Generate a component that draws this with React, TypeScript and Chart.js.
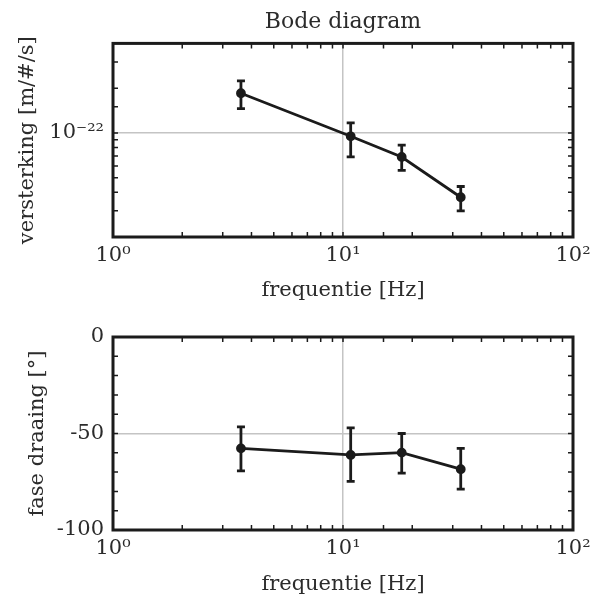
import React, { useEffect, useRef } from 'react';
import { Chart, registerables } from 'chart.js';

Chart.register(...registerables);

// ---- data ----
const frequencies = [3.6, 10.8, 18.0, 32.5];
const gain = [1.85e-22, 9.5e-23, 6.9e-23, 3.7e-23];
const gainLow = [1.46e-22, 6.9e-23, 5.6e-23, 3.0e-23];
const gainHigh = [2.24e-22, 1.17e-22, 8.3e-23, 4.37e-23];
const phase = [-57.7, -61.1, -59.9, -68.5];
const phaseLow = [-69.4, -74.8, -70.5, -78.8];
const phaseHigh = [-46.6, -47.1, -50.0, -57.7];

const freqTickValues = [1, 10, 100];
const freqTickLabels = ['10⁰', '10¹', '10²'];
const gainTickValues = [1e-22];
const gainTickLabels = ['10⁻²²'];
const phaseTickValues = [-100, -50, 0];
const phaseTickLabels = ['-100', '-50', '0'];

const FONT = "'DejaVu Serif', serif";
const TEXT = '#2b2b2b';
const INK = '#1b1b1b';
const GRID = '#c4c4c4';

const near = (a: number, b: number) =>
  b === 0 ? Math.abs(a) < 1e-9 : Math.abs(a - b) <= Math.abs(b) * 1e-6;

const labelFor = (values: number[], labels: string[]) => (v: number) => {
  const i = values.findIndex((t) => near(Number(v), t));
  return i >= 0 ? labels[i] : '';
};

const gridFor = (values: number[]) => (c: any) =>
  c.tick && values.some((t) => near(c.tick.value, t)) ? GRID : 'transparent';

function makeDecor(lo: number[], hi: number[]) {
  return {
    id: 'decor',
    afterDatasetsDraw(chart: any) {
      const { ctx, chartArea: a, scales } = chart;
      const xs = scales.x;
      const ys = scales.y;
      ctx.save();
      ctx.strokeStyle = INK;
      // error bars
      ctx.lineWidth = 2.8;
      frequencies.forEach((f, i) => {
        const px = xs.getPixelForValue(f);
        const pl = ys.getPixelForValue(lo[i]);
        const ph = ys.getPixelForValue(hi[i]);
        ctx.beginPath();
        ctx.moveTo(px, pl);
        ctx.lineTo(px, ph);
        ctx.moveTo(px - 4, pl);
        ctx.lineTo(px + 4, pl);
        ctx.moveTo(px - 4, ph);
        ctx.lineTo(px + 4, ph);
        ctx.stroke();
      });
      // inner ticks on all four sides
      ctx.lineWidth = 1.5;
      const L = 5;
      xs.ticks.forEach((t: any) => {
        const p = xs.getPixelForValue(t.value);
        if (p < a.left + 2 || p > a.right - 2) return;
        ctx.beginPath();
        ctx.moveTo(p, a.bottom);
        ctx.lineTo(p, a.bottom - L);
        ctx.moveTo(p, a.top);
        ctx.lineTo(p, a.top + L);
        ctx.stroke();
      });
      ys.ticks.forEach((t: any) => {
        const p = ys.getPixelForValue(t.value);
        if (p < a.top + 2 || p > a.bottom - 2) return;
        ctx.beginPath();
        ctx.moveTo(a.left, p);
        ctx.lineTo(a.left + L, p);
        ctx.moveTo(a.right, p);
        ctx.lineTo(a.right - L, p);
        ctx.stroke();
      });
      // frame
      ctx.lineWidth = 3;
      ctx.strokeRect(a.left, a.top, a.right - a.left, a.bottom - a.top);
      ctx.restore();
    },
  };
}

function buildConfig(p: any) {
  return {
    type: 'line',
    data: {
      datasets: [
        {
          data: frequencies.map((f, i) => ({ x: f, y: p.values[i] })),
          borderColor: INK,
          backgroundColor: INK,
          borderWidth: 2.8,
          pointRadius: 3.5,
          pointBackgroundColor: INK,
          pointBorderColor: INK,
          tension: 0,
          fill: false,
        },
      ],
    },
    plugins: [makeDecor(p.lo, p.hi)],
    options: {
      responsive: false,
      animation: false,
      layout: { padding: p.padding },
      plugins: {
        legend: { display: false },
        tooltip: { enabled: false },
        title: p.title
          ? {
              display: true,
              text: p.title,
              fullSize: false,
              color: TEXT,
              font: { family: FONT, size: 22, weight: 'normal' },
              padding: { top: 9, bottom: 8 },
            }
          : { display: false },
      },
      scales: {
        x: {
          type: 'logarithmic',
          position: 'bottom',
          min: 1,
          max: 100,
          afterFit: (s: any) => {
            s.height = p.xHeight;
          },
          border: { display: false },
          grid: { drawTicks: false, color: gridFor(freqTickValues), lineWidth: 1.5 },
          ticks: {
            autoSkip: false,
            maxRotation: 0,
            padding: 6,
            color: TEXT,
            font: { family: FONT, size: 21 },
            callback: labelFor(freqTickValues, freqTickLabels),
          },
          title: {
            display: true,
            text: 'frequentie [Hz]',
            color: TEXT,
            font: { family: FONT, size: 21 },
            padding: { top: 0, bottom: 1 },
          },
        },
        y: {
          type: p.yType,
          position: 'left',
          min: p.yMin,
          max: p.yMax,
          afterFit: (s: any) => {
            s.width = 113;
          },
          border: { display: false },
          grid: { drawTicks: false, color: gridFor(p.gridValues), lineWidth: 1.5 },
          ticks: {
            autoSkip: false,
            padding: 9,
            color: TEXT,
            font: { family: FONT, size: 21 },
            stepSize: p.stepSize,
            callback: labelFor(p.tickValues, p.tickLabels),
          },
          title: {
            display: true,
            text: p.yTitle,
            color: TEXT,
            font: { family: FONT, size: 21 },
            padding: { top: p.yTitlePad, bottom: 0 },
          },
        },
      },
    },
  };
}

export default function App() {
  const topRef = useRef<HTMLCanvasElement>(null);
  const botRef = useRef<HTMLCanvasElement>(null);

  useEffect(() => {
    const top = new Chart(
      topRef.current as HTMLCanvasElement,
      buildConfig({
        values: gain,
        lo: gainLow,
        hi: gainHigh,
        yType: 'logarithmic',
        yMin: 2e-23,
        yMax: 4e-22,
        tickValues: gainTickValues,
        tickLabels: gainTickLabels,
        gridValues: gainTickValues,
        yTitle: 'versterking [m/#/s]',
        yTitlePad: 15,
        title: 'Bode diagram',
        padding: { left: 0, right: 27, top: 0, bottom: 16 },
        xHeight: 67,
      }) as any
    );
    const bot = new Chart(
      botRef.current as HTMLCanvasElement,
      buildConfig({
        values: phase,
        lo: phaseLow,
        hi: phaseHigh,
        yType: 'linear',
        yMin: -100,
        yMax: 0,
        stepSize: 10,
        tickValues: phaseTickValues,
        tickLabels: phaseTickLabels,
        gridValues: [-50],
        yTitle: 'fase draaing [°]',
        yTitlePad: 25,
        title: null,
        padding: { left: 0, right: 27, top: 37, bottom: 1 },
        xHeight: 68,
      }) as any
    );
    return () => {
      top.destroy();
      bot.destroy();
    };
  }, []);

  return (
    <div style={{ position: 'absolute', left: 0, top: 0, width: 600, height: 599, background: '#fff', overflow: 'hidden' }}>
      <canvas ref={topRef} width={600} height={320} style={{ position: 'absolute', left: 0, top: 0, display: 'block' }} />
      <canvas ref={botRef} width={600} height={299} style={{ position: 'absolute', left: 0, top: 300, display: 'block' }} />
    </div>
  );
}
